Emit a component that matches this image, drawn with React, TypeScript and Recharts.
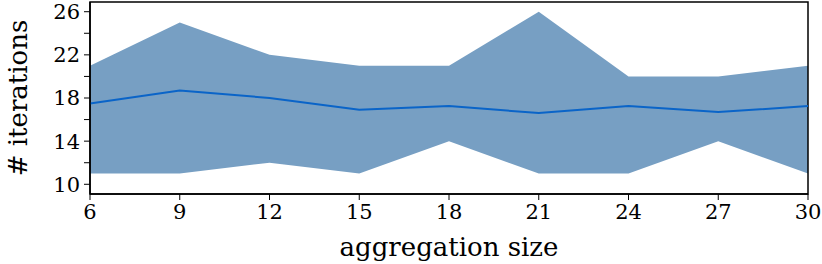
import { ComposedChart, Area, Line, XAxis, YAxis, ReferenceArea } from "recharts"

const sizes = [6, 9, 12, 15, 18, 21, 24, 27, 30]
const meanIters = [17.5, 18.7, 18.0, 16.9, 17.25, 16.6, 17.25, 16.7, 17.25]
const minIters = [11, 11, 12, 11, 14, 11, 11, 14, 11]
const maxIters = [21, 25, 22, 21, 21, 26, 20, 20, 21]
const yTicks = [10, 12, 14, 16, 18, 20, 22, 24, 26]
const yLabelled = [10, 14, 18, 22, 26]

const data = sizes.map((s, i) => ({
  size: s,
  mean: meanIters[i],
  band: [minIters[i], maxIters[i]],
}))

const FONT = "DejaVu Serif"
const Y_DOMAIN: [number, number] = [9.1, 26.9]

export default function App() {
  return (
    <div style={{ position: "absolute", left: 0, top: 0, background: "#fff", fontFamily: FONT }}>
      <ComposedChart
        width={822}
        height={264}
        data={data}
        margin={{ top: 2, right: 14, bottom: 0, left: 0 }}
      >
        <XAxis
          dataKey="size"
          type="number"
          domain={[6, 30]}
          ticks={sizes}
          height={70}
          tickSize={6}
          tickMargin={4}
          axisLine={{ stroke: "#000", strokeWidth: 1.5 }}
          tickLine={{ stroke: "#000" }}
          tick={{ fill: "#000", fontSize: 21, fontFamily: FONT }}
          label={{
            value: "aggregation size",
            position: "insideBottom",
            offset: 8,
            fill: "#000",
            fontSize: 26,
            fontFamily: FONT,
          }}
        />
        <YAxis
          type="number"
          domain={Y_DOMAIN}
          ticks={yTicks}
          width={90}
          tickSize={6}
          tickMargin={4}
          interval={0}
          tickFormatter={(v: number) => (yLabelled.includes(v) ? String(v) : "")}
          axisLine={{ stroke: "#000", strokeWidth: 1.5 }}
          tickLine={{ stroke: "#000" }}
          tick={{ fill: "#000", fontSize: 21, fontFamily: FONT }}
          label={{
            value: "# iterations",
            angle: -90,
            position: "insideLeft",
            offset: 18,
            fill: "#000",
            fontSize: 26,
            fontFamily: FONT,
            style: { textAnchor: "middle" },
          }}
        />
        <Area
          dataKey="band"
          type="linear"
          stroke="none"
          fill="#779fc3"
          fillOpacity={1}
          isAnimationActive={false}
        />
        <Line
          dataKey="mean"
          type="linear"
          stroke="#0a64c8"
          strokeWidth={2}
          dot={false}
          isAnimationActive={false}
        />
        <ReferenceArea
          x1={6}
          x2={30}
          y1={Y_DOMAIN[0]}
          y2={Y_DOMAIN[1]}
          fill="none"
          stroke="#000"
          strokeWidth={1.5}
          ifOverflow="visible"
        />
      </ComposedChart>
    </div>
  )
}
